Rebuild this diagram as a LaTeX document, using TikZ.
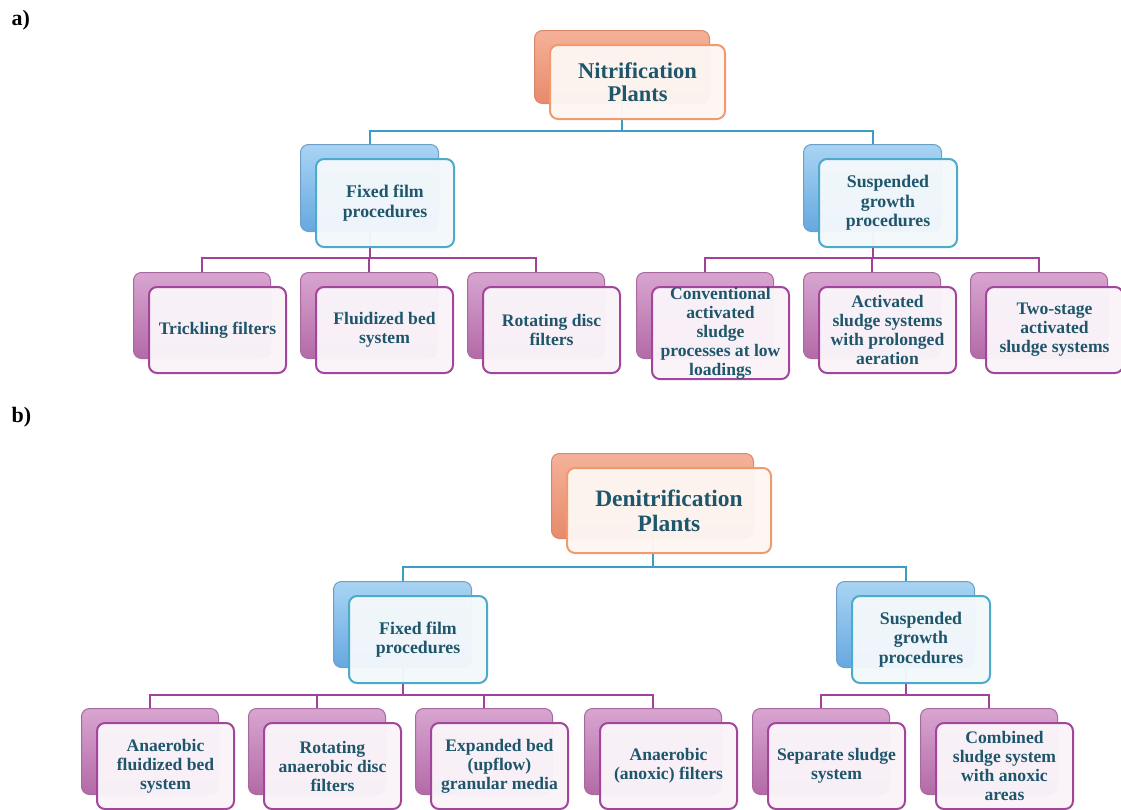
\documentclass[tikz,border=0pt]{standalone}
\usepackage{fontspec}
\setmainfont{Liberation Serif}
\usetikzlibrary{calc}
\definecolor{oBackTop}{HTML}{F4B299}
\definecolor{oBackBot}{HTML}{E88A6B}
\definecolor{oBackLine}{HTML}{D9876A}
\definecolor{oFrontFill}{HTML}{FDF6F2}
\definecolor{oFrontLine}{HTML}{F09A70}
\definecolor{bBackTop}{HTML}{A9D4F3}
\definecolor{bBackBot}{HTML}{66A8E0}
\definecolor{bBackLine}{HTML}{6D9FC9}
\definecolor{bFrontFill}{HTML}{F3F8FB}
\definecolor{bFrontLine}{HTML}{4DAACB}
\definecolor{pBackTop}{HTML}{D8A5D0}
\definecolor{pBackBot}{HTML}{B36AA7}
\definecolor{pBackLine}{HTML}{A86A9E}
\definecolor{pFrontFill}{HTML}{FAF4F9}
\definecolor{pFrontLine}{HTML}{A1469A}
\definecolor{connBlue}{HTML}{3C9CC4}
\definecolor{connPurple}{HTML}{A2419B}
\definecolor{txt}{HTML}{1F566B}
\begin{document}
\begin{tikzpicture}[x=1pt,y=-1pt,
  box/.style={rectangle, rounded corners=8pt, inner sep=0pt, anchor=north west},
  frontcommon/.style={box, line width=2pt, fill opacity=0.97, text opacity=1, text=txt, align=center},
  oback/.style={box, draw=oBackLine, line width=1pt, top color=oBackTop, bottom color=oBackBot},
  bback/.style={box, draw=bBackLine, line width=1pt, top color=bBackTop, bottom color=bBackBot},
  pback/.style={box, draw=pBackLine, line width=1pt, top color=pBackTop, bottom color=pBackBot},
  ofront/.style={frontcommon, draw=oFrontLine, fill=oFrontFill, font=\bfseries\fontsize{22.5}{23.5}\selectfont},
  bfront/.style={frontcommon, draw=bFrontLine, fill=bFrontFill, font=\bfseries\fontsize{17.8}{19.5}\selectfont},
  pfront/.style={frontcommon, draw=pFrontLine, fill=pFrontFill, font=\bfseries\fontsize{17.6}{19}\selectfont},
  bconn/.style={draw=connBlue, line width=2pt},
  pconn/.style={draw=connPurple, line width=2pt},
  panel/.style={anchor=west, font=\bfseries\fontsize{22}{24}\selectfont, text=black}
]
\useasboundingbox (0,0) rectangle (1121,809);

\node[panel] (la) at (8,20) {a)};
\node[panel] (lb) at (8,417) {b)};

% ---------- back boxes ----------
% part a
\node[oback, minimum width=175pt, minimum height=73pt] (Nb) at (534,30) {};
\node[bback, minimum width=138pt, minimum height=87pt] (FFab) at (300,144) {};
\node[bback, minimum width=138pt, minimum height=87pt] (SGab) at (803,144) {};
\node[pback, minimum width=137pt, minimum height=86pt] (A1b) at (133,272) {};
\node[pback, minimum width=137pt, minimum height=86pt] (A2b) at (300,272) {};
\node[pback, minimum width=137pt, minimum height=86pt] (A3b) at (467,272) {};
\node[pback, minimum width=137pt, minimum height=86pt] (A4b) at (636,272) {};
\node[pback, minimum width=137pt, minimum height=86pt] (A5b) at (803,272) {};
\node[pback, minimum width=137pt, minimum height=86pt] (A6b) at (970,272) {};
% part b
\node[oback, minimum width=202pt, minimum height=85pt] (Db) at (551,453) {};
\node[bback, minimum width=138pt, minimum height=86pt] (FFbb) at (333,581) {};
\node[bback, minimum width=138pt, minimum height=86pt] (SGbb) at (836,581) {};
\node[pback, minimum width=137pt, minimum height=86pt] (B1b) at (81,708) {};
\node[pback, minimum width=137pt, minimum height=86pt] (B2b) at (248,708) {};
\node[pback, minimum width=137pt, minimum height=86pt] (B3b) at (415,708) {};
\node[pback, minimum width=137pt, minimum height=86pt] (B4b) at (584,708) {};
\node[pback, minimum width=137pt, minimum height=86pt] (B5b) at (752,708) {};
\node[pback, minimum width=137pt, minimum height=86pt] (B6b) at (920,708) {};

% ---------- connectors ----------
\coordinate (busA1) at (0,131);
\coordinate (busA2) at (0,258);
\coordinate (busB1) at (0,567);
\coordinate (busB2) at (0,695);

\draw[bconn] (Nb.south) -- (Nb.south |- busA1);
\draw[bconn] (FFab.north) |- (SGab.north |- busA1) -- (SGab.north);

\draw[pconn] (FFab.south) -- (FFab.south |- busA2);
\draw[pconn] (A1b.north) |- (A3b.north |- busA2) -- (A3b.north);
\draw[pconn] (A2b.north) -- (A2b.north |- busA2);
\draw[pconn] (SGab.south) -- (SGab.south |- busA2);
\draw[pconn] (A4b.north) |- (A6b.north |- busA2) -- (A6b.north);
\draw[pconn] (A5b.north) -- (A5b.north |- busA2);

\draw[bconn] (Db.south) -- (Db.south |- busB1);
\draw[bconn] (FFbb.north) |- (SGbb.north |- busB1) -- (SGbb.north);

\draw[pconn] (FFbb.south) -- (FFbb.south |- busB2);
\draw[pconn] (B1b.north) |- (B4b.north |- busB2) -- (B4b.north);
\draw[pconn] (B2b.north) -- (B2b.north |- busB2);
\draw[pconn] (B3b.north) -- (B3b.north |- busB2);
\draw[pconn] (SGbb.south) -- (SGbb.south |- busB2);
\draw[pconn] (B5b.north) |- (B6b.north |- busB2) -- (B6b.north);

% ---------- front boxes ----------
\node[ofront, minimum width=175pt, minimum height=74pt] (N) at ($(Nb.north west)+(15,14)$) {Nitrification\\Plants};
\node[bfront, minimum width=138pt, minimum height=88pt] (FFa) at ($(FFab.north west)+(15,14)$) {Fixed film\\procedures};
\node[bfront, minimum width=138pt, minimum height=88pt] (SGa) at ($(SGab.north west)+(15,14)$) {Suspended\\growth\\procedures};
\node[pfront, minimum width=137pt, minimum height=86pt] (A1) at ($(A1b.north west)+(15,14)$) {Trickling filters};
\node[pfront, minimum width=137pt, minimum height=86pt] (A2) at ($(A2b.north west)+(15,14)$) {Fluidized bed\\system};
\node[pfront, minimum width=137pt, minimum height=86pt] (A3) at ($(A3b.north west)+(15,14)$) {Rotating disc\\filters};
\node[pfront, minimum width=137pt, minimum height=86pt] (A4) at ($(A4b.north west)+(15,14)$) {Conventional\\activated\\sludge\\processes at low\\loadings};
\node[pfront, minimum width=137pt, minimum height=86pt] (A5) at ($(A5b.north west)+(15,14)$) {Activated\\sludge systems\\with prolonged\\aeration};
\node[pfront, minimum width=137pt, minimum height=86pt] (A6) at ($(A6b.north west)+(15,14)$) {Two-stage\\activated\\sludge systems};

\node[ofront, font=\bfseries\fontsize{23.5}{25}\selectfont, minimum width=204pt, minimum height=85pt] (D) at ($(Db.north west)+(15,14)$) {Denitrification\\Plants};
\node[bfront, minimum width=138pt, minimum height=87pt] (FFb) at ($(FFbb.north west)+(15,14)$) {Fixed film\\procedures};
\node[bfront, minimum width=138pt, minimum height=87pt] (SGb) at ($(SGbb.north west)+(15,14)$) {Suspended\\growth\\procedures};
\node[pfront, minimum width=137pt, minimum height=86pt] (B1) at ($(B1b.north west)+(15,14)$) {Anaerobic\\fluidized bed\\system};
\node[pfront, minimum width=137pt, minimum height=86pt] (B2) at ($(B2b.north west)+(15,14)$) {Rotating\\anaerobic disc\\filters};
\node[pfront, minimum width=137pt, minimum height=86pt] (B3) at ($(B3b.north west)+(15,14)$) {Expanded bed\\(upflow)\\granular media};
\node[pfront, minimum width=137pt, minimum height=86pt] (B4) at ($(B4b.north west)+(15,14)$) {Anaerobic\\(anoxic) filters};
\node[pfront, minimum width=137pt, minimum height=86pt] (B5) at ($(B5b.north west)+(15,14)$) {Separate sludge\\system};
\node[pfront, minimum width=137pt, minimum height=86pt] (B6) at ($(B6b.north west)+(15,14)$) {Combined\\sludge system\\with anoxic\\areas};
\end{tikzpicture}
\end{document}
